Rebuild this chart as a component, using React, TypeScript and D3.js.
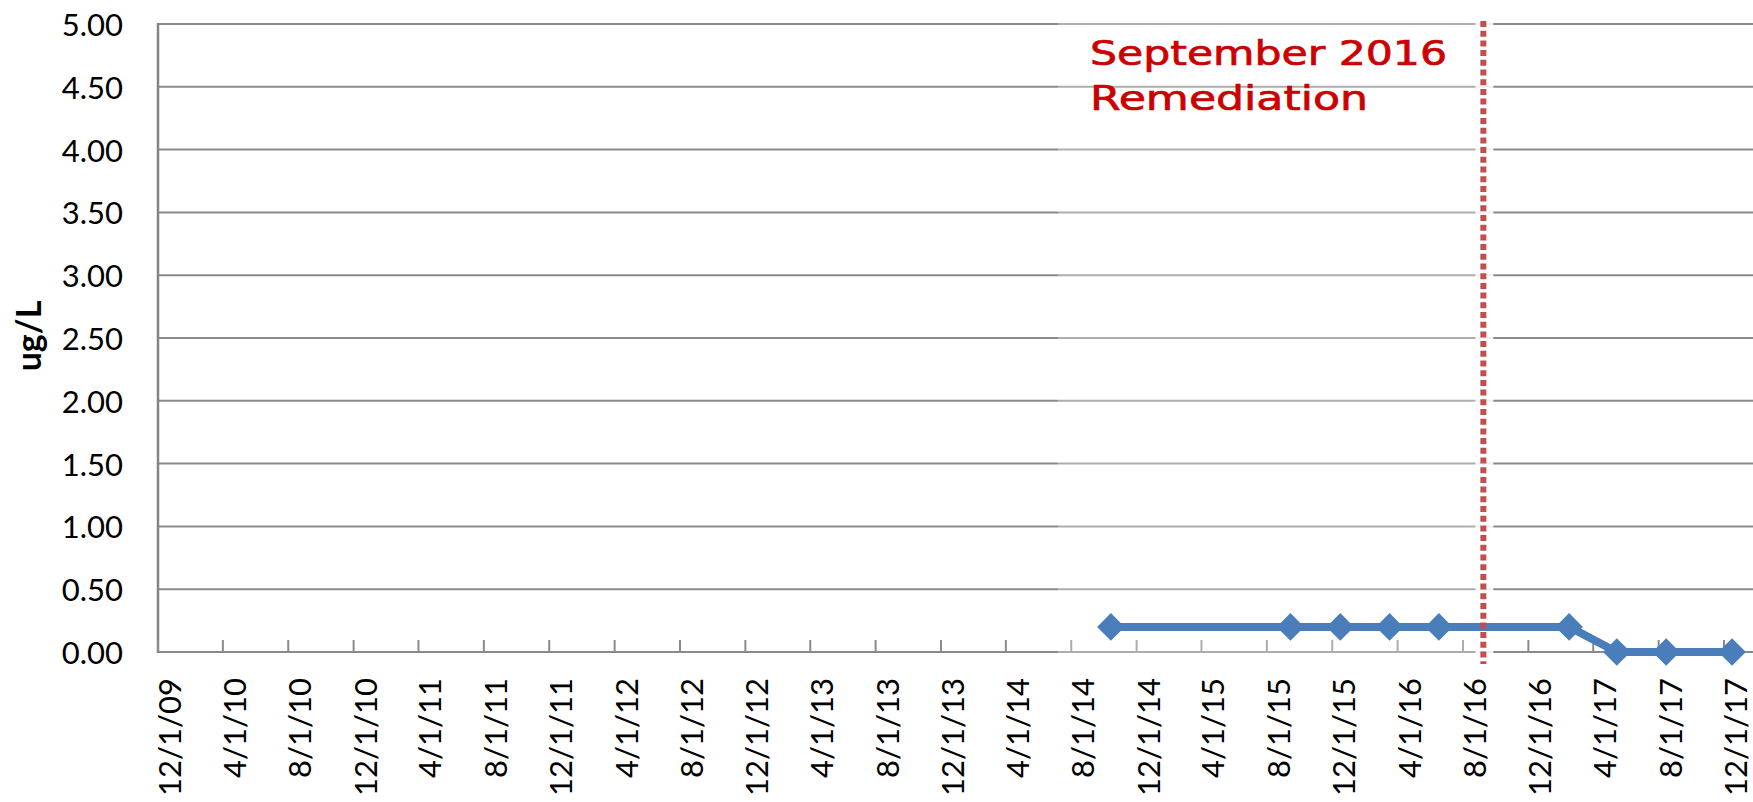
import React from "react";
import * as d3 from "d3";

const W = 1753;
const H = 802;

const yTicks = [0, 0.5, 1, 1.5, 2, 2.5, 3, 3.5, 4, 4.5, 5];
const xTickLabels = [
  "12/1/09", "4/1/10", "8/1/10", "12/1/10", "4/1/11", "8/1/11", "12/1/11",
  "4/1/12", "8/1/12", "12/1/12", "4/1/13", "8/1/13", "12/1/13", "4/1/14",
  "8/1/14", "12/1/14", "4/1/15", "8/1/15", "12/1/15", "4/1/16", "8/1/16",
  "12/1/16", "4/1/17", "8/1/17", "12/1/17",
];
const sampleDates = [
  "10/14/14", "9/14/15", "12/16/15", "3/17/16", "6/17/16",
  "2/15/17", "5/15/17", "8/15/17", "12/16/17",
];
const sampleValues = [0.2, 0.2, 0.2, 0.2, 0.2, 0.2, 0, 0, 0];
const remediationDate = "9/8/16";
const annotationLines = ["September 2016", "Remediation"];
const yLabel = "ug/L";

const parse = d3.utcParse("%m/%d/%y");

export default function App() {
  const left = 158;
  const top = 24;
  const bottom = 652;
  const tickDates = xTickLabels.map((s) => parse(s) as Date);
  const x = d3
    .scaleUtc()
    .domain([tickDates[0], tickDates[tickDates.length - 1]])
    .range([left, 1724]);
  const y = d3.scaleLinear().domain([0, 5]).range([bottom, top]);

  const pts = sampleDates.map((d, i) => ({ x: x(parse(d) as Date), y: y(sampleValues[i]) }));
  const line = d3
    .line<{ x: number; y: number }>()
    .x((d) => d.x)
    .y((d) => d.y);
  const diamond = d3.symbol().type(d3.symbolSquare).size(380)();
  const rx = x(parse(remediationDate) as Date);

  const gridColor = "#8a8a8a";
  const font = "Lato, 'Open Sans', sans-serif";

  return (
    <svg
      width={W}
      height={H}
      style={{ position: "absolute", left: 0, top: 0, background: "#fff" }}
    >
      <defs>
        <filter id="glow" x="-200%" y="-5%" width="500%" height="110%">
          <feGaussianBlur stdDeviation="3" />
        </filter>
      </defs>
      <rect x={0} y={0} width={W} height={H} fill="#fff" />
      {yTicks.map((t) => (
        <line
          key={t}
          x1={left}
          x2={W}
          y1={y(t)}
          y2={y(t)}
          stroke={gridColor}
          strokeWidth={2}
        />
      ))}
      <line x1={left} x2={left} y1={top - 1} y2={bottom + 1} stroke="#858585" strokeWidth={2.5} />
      {tickDates.map((d, i) => (
        <line
          key={i}
          x1={x(d)}
          x2={x(d)}
          y1={bottom}
          y2={bottom - 12}
          stroke={gridColor}
          strokeWidth={2}
        />
      ))}
      {yTicks.map((t) => (
        <text
          key={t}
          x={123}
          y={y(t)}
          textAnchor="end"
          dominantBaseline="central"
          fontFamily={font}
          fontSize={31}
          fill="#000"
        >
          {d3.format(".2f")(t)}
        </text>
      ))}
      {tickDates.map((d, i) => (
        <text
          key={i}
          transform={`translate(${x(d) + 11},678) rotate(-90)`}
          textAnchor="end"
          dominantBaseline="central"
          fontFamily={font}
          fontSize={31}
          fill="#000"
        >
          {xTickLabels[i]}
        </text>
      ))}
      <text
        transform={`translate(27,336) rotate(-90)`}
        textAnchor="middle"
        dominantBaseline="central"
        fontFamily={font}
        fontWeight="bold"
        fontSize={34}
        fill="#000"
      >
        {yLabel}
      </text>
      <rect x={1058} y={top - 4} width={rx - 1058 - 4} height={bottom - top + 10} fill="#fff" opacity={0.3} />
      <rect x={rx - 8} y={top - 4} width={18} height={bottom - top + 10} fill="#fff" opacity={0.85} />
      <path d={line(pts) || ""} fill="none" stroke="#4A7EBB" strokeWidth={8} strokeLinejoin="round" />
      {pts.map((p, i) => (
        <path
          key={i}
          d={diamond || ""}
          transform={`translate(${p.x},${p.y}) rotate(45)`}
          fill="#4A7EBB"
        />
      ))}
      <line
        x1={rx + 1}
        x2={rx + 1}
        y1={22}
        y2={666}
        stroke="#999"
        strokeWidth={8}
        opacity={0.5}
        filter="url(#glow)"
      />
      <line
        x1={rx}
        x2={rx}
        y1={21}
        y2={664}
        stroke="#C0504D"
        strokeWidth={6}
        strokeDasharray="6 3.7"
      />
      {annotationLines.map((t, i) => (
        <text
          key={i}
          x={1090}
          y={65 + i * 45}
          fontFamily="'DejaVu Sans', Verdana, sans-serif"
          fontSize={34}
          fill="#CC0000"
          stroke="#CC0000"
          strokeWidth={0.7}
          textLength={i === 0 ? 357 : 278}
          lengthAdjust="spacingAndGlyphs"
        >
          {t}
        </text>
      ))}
    </svg>
  );
}
